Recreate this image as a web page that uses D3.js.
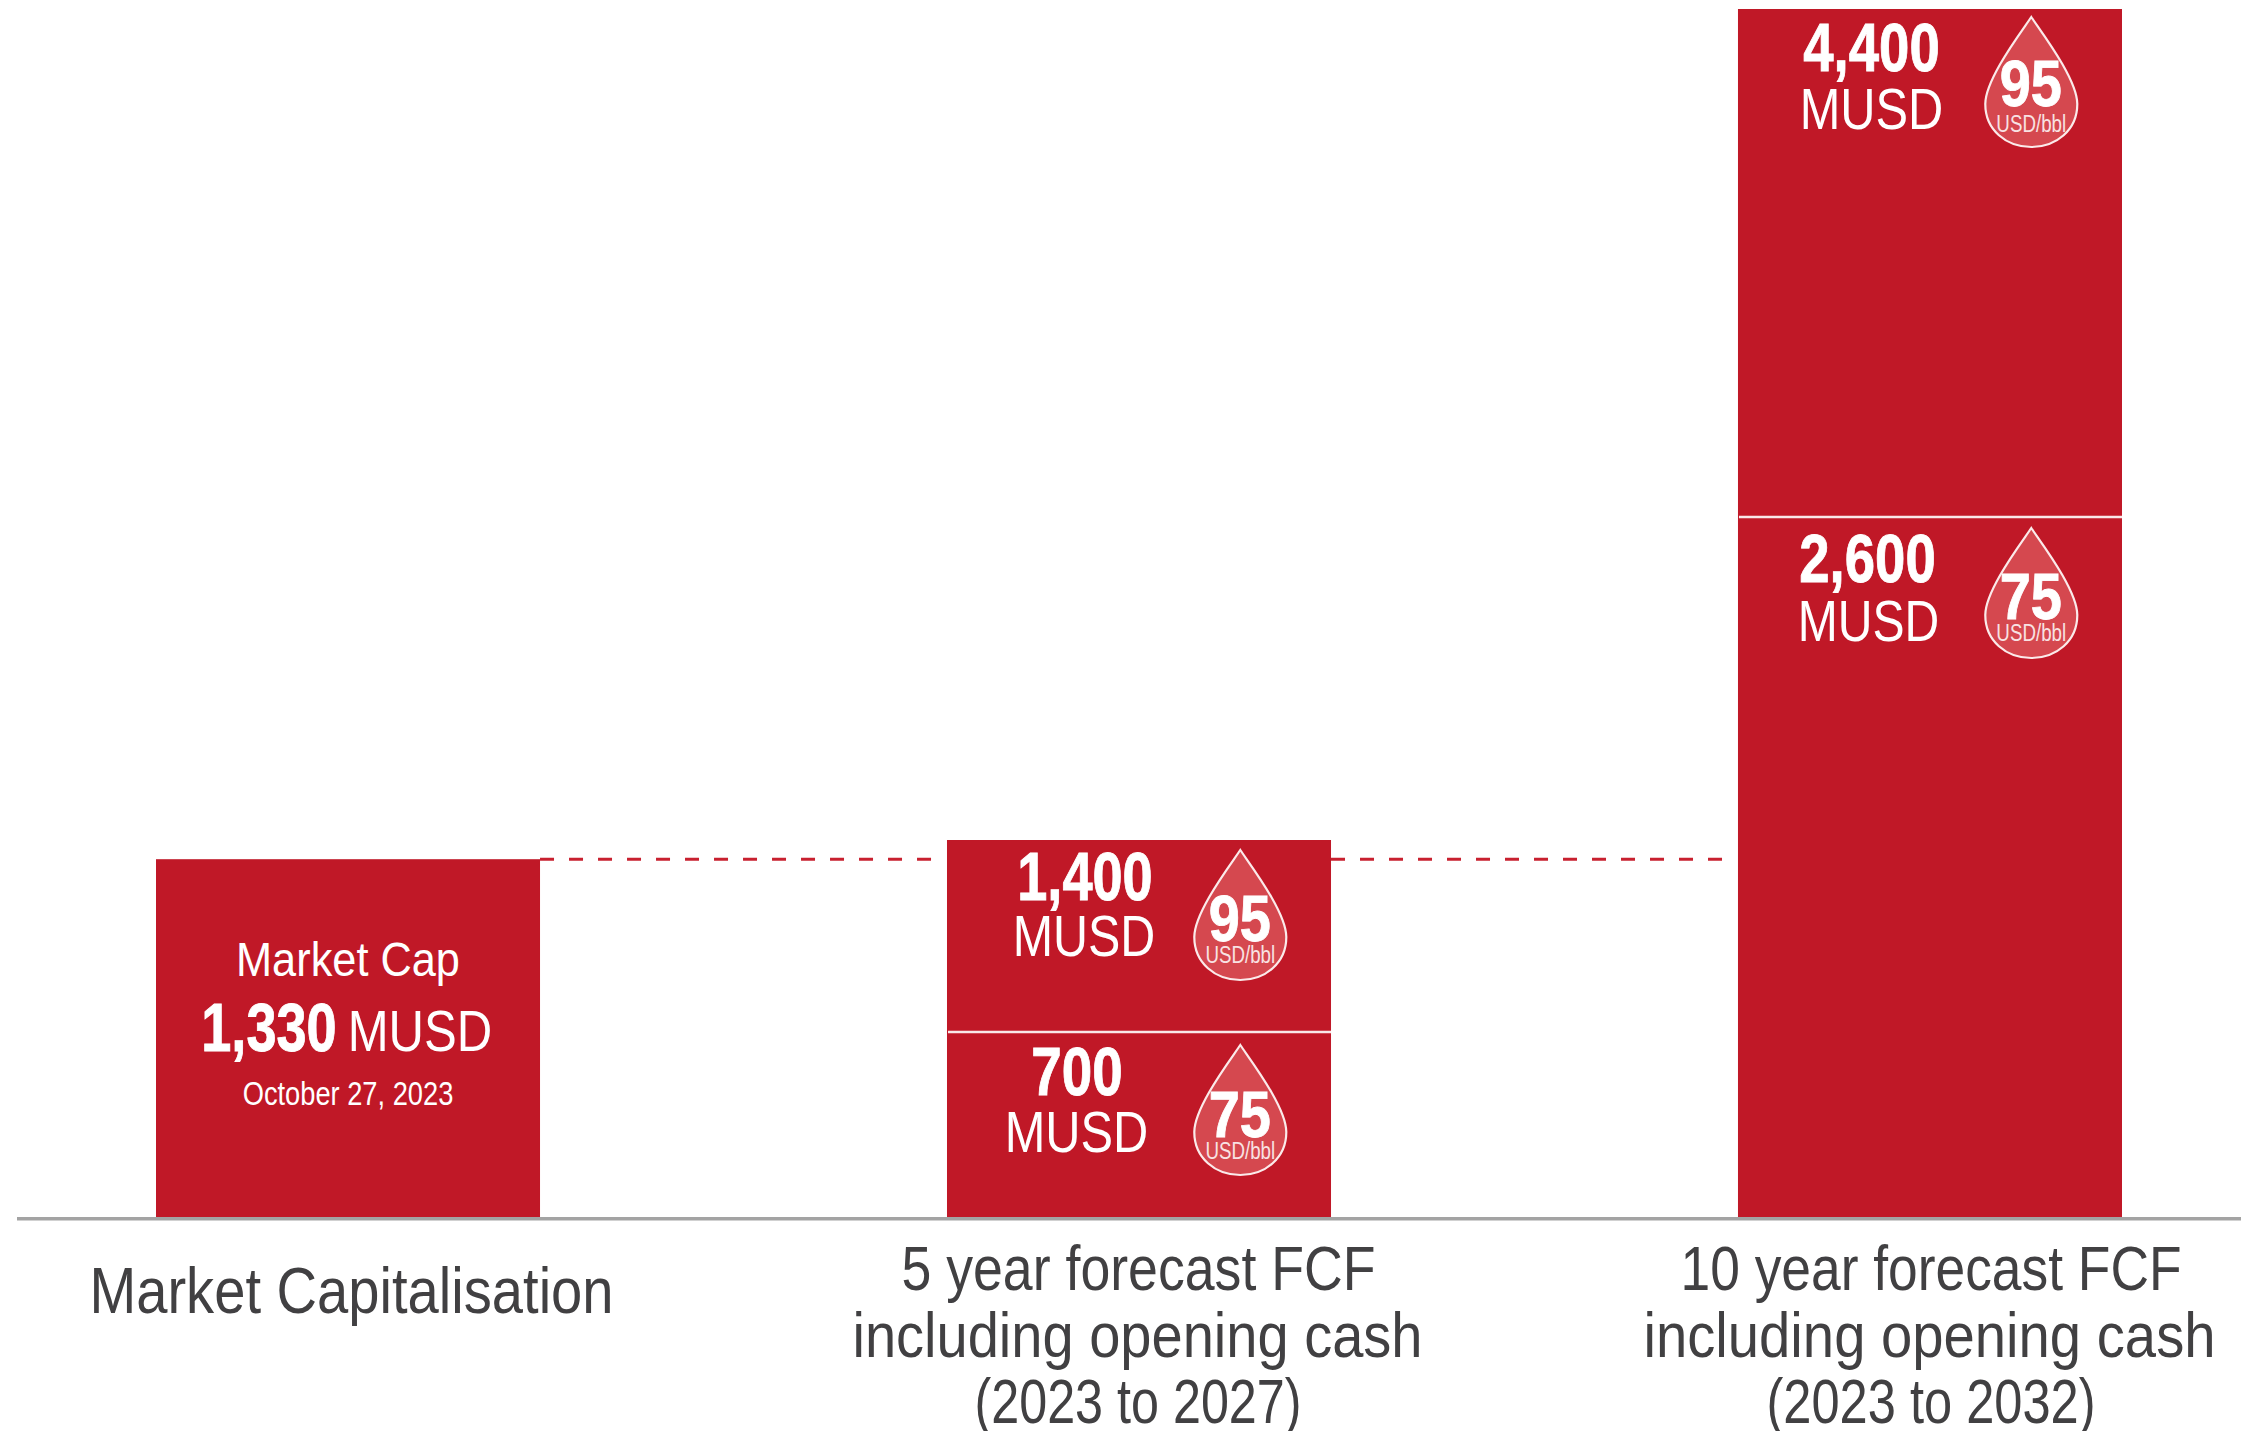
<!DOCTYPE html>
<html><head><meta charset="utf-8">
<script src="https://cdn.jsdelivr.net/npm/d3@7"></script>
<style>html,body{margin:0;padding:0;background:#fff;overflow:hidden}svg{display:block}</style>
</head><body><div id="c"></div>
<script>
// ---- data ----
const categories = ["Market Capitalisation", "5 year forecast FCF", "10 year forecast FCF"];
const marketCap = 1330;
const fcf5Levels = [700, 1400];
const fcf10Levels = [2600, 4400];
const oilPrices = [75, 95];
const unitLabel = "MUSD";
const priceUnit = "USD/bbl";
const capTitle = "Market Cap";
const capValueLabel = "1,330";
const capDate = "October 27, 2023";
const cat5Lines = ["5 year forecast FCF", "including opening cash", "(2023 to 2027)"];
const cat10Lines = ["10 year forecast FCF", "including opening cash", "(2023 to 2032)"];
const catCapLines = ["Market Capitalisation"];

// ---- layout ----
const W = 2241, H = 1431;
const RED = "#c01827", DROP = "#d5484f", DARK = "#414042", AXIS = "#a3a3a3";
const FONT = "'Liberation Sans Narrow','Liberation Sans',Arial,sans-serif";
const svg = d3.select("#c").append("svg").attr("width", W).attr("height", H).attr("viewBox", `0 0 ${W} ${H}`);
const x = d3.scaleBand().domain(categories).range([156, 2122]).paddingInner(0.5145).paddingOuter(0);
// the picture's bars are not strictly proportional, so the scale is calibrated on its stacked levels
const y = d3.scaleLinear().domain([0, 700, 1400, 2600, 4400]).range([1217, 1032, 840, 517, 9]);
const fmt = d3.format(",");

function fit(t, x0, x1, base, size, opt = {}) {
  // widen the box by the glyph side bearings, so that the ink spans x0..x1
  const pad = size * 0.04;
  const s = svg.append("text").text(t).attr("x", x0 - pad).attr("y", base)
    .attr("textLength", x1 - x0 + 2 * pad).attr("lengthAdjust", "spacingAndGlyphs")
    .attr("font-family", FONT).attr("font-size", size)
    .attr("font-weight", opt.bold ? 700 : 400)
    .attr("fill", opt.fill || "#fff");
  if (opt.bold) s.attr("stroke", "#fff").attr("stroke-width", 0.9);
  return s;
}

// dashed reference level
const capY = y(marketCap);
[[x(categories[0]) + x.bandwidth(), x(categories[1]) - 12],
 [x(categories[1]) + x.bandwidth(), x(categories[2]) - 9]].forEach(([a, b]) => {
  svg.append("line").attr("x1", a).attr("x2", b).attr("y1", capY).attr("y2", capY)
    .attr("stroke", "#c8202f").attr("stroke-width", 3).attr("stroke-dasharray", "14 15");
});

// axis
svg.append("rect").attr("x", 17).attr("width", W - 17).attr("y", y(0)).attr("height", 3.5).attr("fill", AXIS);

// bars
svg.append("rect").attr("x", x(categories[0])).attr("width", x.bandwidth())
  .attr("y", y(marketCap)).attr("height", y(0) - y(marketCap)).attr("fill", RED);
[[categories[1], fcf5Levels], [categories[2], fcf10Levels]].forEach(([c, lv]) => {
  svg.append("rect").attr("x", x(c)).attr("width", x.bandwidth())
    .attr("y", y(lv[1])).attr("height", y(0) - y(lv[1])).attr("fill", RED);
  svg.append("line").attr("x1", x(c) + 1).attr("x2", x(c) + x.bandwidth())
    .attr("y1", y(lv[0])).attr("y2", y(lv[0])).attr("stroke", "#f9e8e9").attr("stroke-width", 2.6);
});

// oil drop glyph
function drop(cx, top, price, pb, ub) {
  const w = 46, h = 130, g = svg.append("g");
  const p = d3.path();
  p.moveTo(cx, top);
  p.bezierCurveTo(cx + 10, top + 15, cx + w, top + 62, cx + w, top + 87);
  p.bezierCurveTo(cx + w, top + 113, cx + 25, top + h, cx, top + h);
  p.bezierCurveTo(cx - 25, top + h, cx - w, top + 113, cx - w, top + 87);
  p.bezierCurveTo(cx - w, top + 62, cx - 10, top + 15, cx, top);
  p.closePath();
  g.append("path").attr("d", p.toString()).attr("fill", DROP).attr("stroke", "#fbeaea").attr("stroke-width", 2.2);
  fit(String(price), cx - 29, cx + 28, top + pb, 64, {bold: true});
  fit(priceUnit, cx - 34, cx + 34, top + ub, 23, {fill: "#f8e2e3"});
}

// market cap block
fit(capTitle, 238, 458, 976, 49);
fit(capValueLabel, 204, 334, 1051, 68, {bold: true});
fit(unitLabel, 350, 490, 1051, 57);
fit(capDate, 244, 452, 1105, 33);

// stacked blocks: [value, category, number x-range, unit x-range, number baseline, unit baseline, drop top, price, price baseline, price-unit baseline]
[
  [fcf5Levels[1], categories[1], 1020, 1150, 1015, 1153, 900, 956, 850, oilPrices[1], 91, 113],
  [fcf5Levels[0], categories[1], 1034, 1120, 1007, 1146, 1095, 1152, 1045, oilPrices[0], 92, 114],
  [fcf10Levels[1], categories[2], 1806, 1937, 1802, 1941, 71, 129, 17, oilPrices[1], 89, 115],
  [fcf10Levels[0], categories[2], 1802, 1933, 1800, 1937, 582, 641, 528, oilPrices[0], 91, 113],
].forEach(([v, c, a0, a1, b0, b1, nb, ub, dt, pr, pb, pu]) => {
  fit(fmt(v), a0, a1, nb, 68, {bold: true});
  fit(unitLabel, b0, b1, ub, 58);
  drop(x(c) + x.bandwidth() / 2 + 101.3, dt, pr, pb, pu);
});

// category labels
fit(catCapLines[0], 92, 611, 1313, 64, {fill: DARK});
[[cat5Lines, [[904, 1373], [855, 1420], [977, 1299]]],
 [cat10Lines, [[1683, 2179], [1646, 2213], [1769, 2093]]]].forEach(([lines, xs]) => {
  lines.forEach((t, i) => fit(t, xs[i][0], xs[i][1], 1290 + i * 66.5, 63, {fill: DARK}));
});
</script></body></html>
